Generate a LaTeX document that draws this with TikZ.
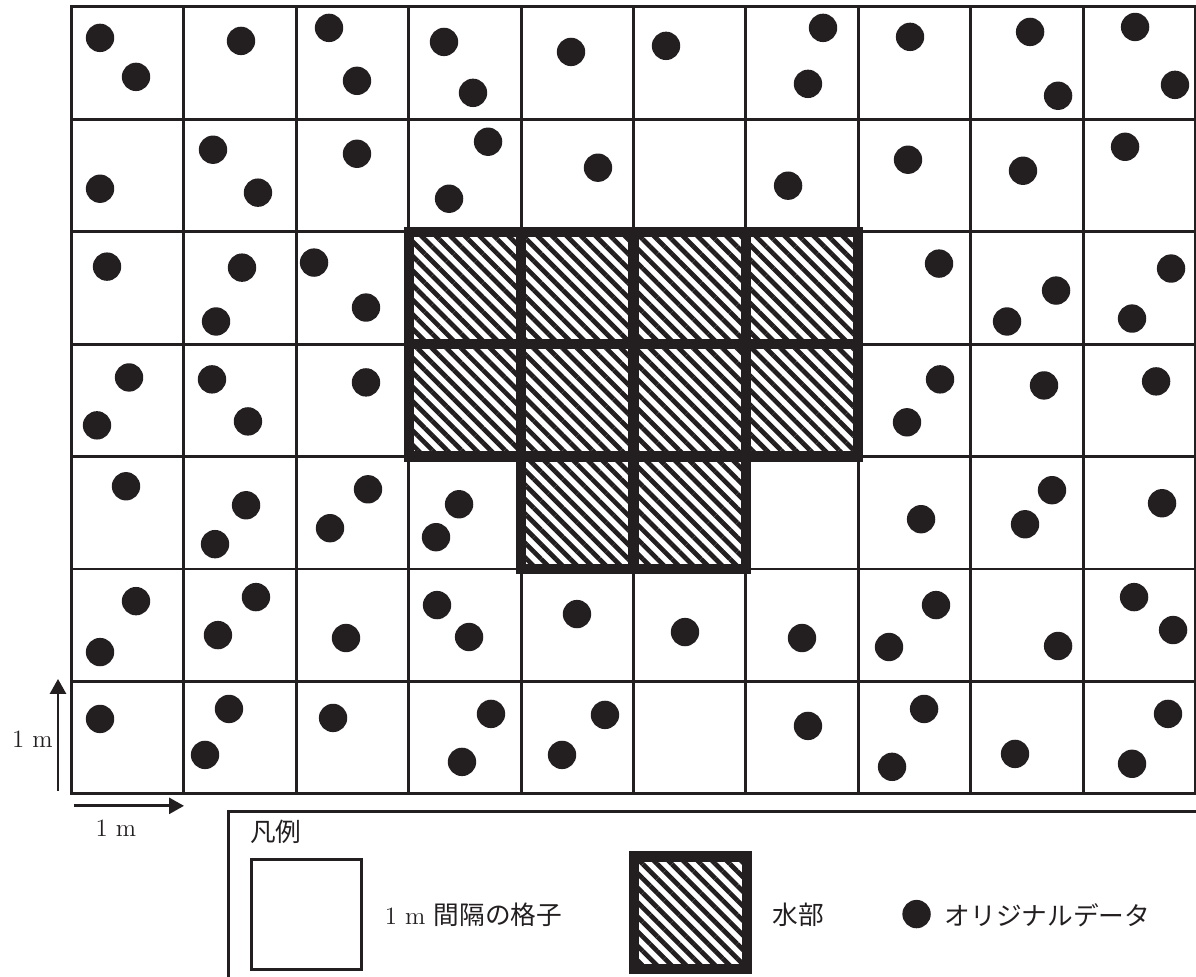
\documentclass[tikz,border=0pt]{standalone}
\usepackage{fontspec}
\newfontfamily\jpfont{Noto Sans CJK JP}
\usetikzlibrary{arrows.meta, patterns.meta}
\definecolor{ink}{HTML}{231F20}

\begin{document}
\begin{tikzpicture}[
    x=2cm, y=2cm,
    gridline/.style={draw=ink, line width=1.5pt},
    water/.style={draw=ink, line width=5.2pt,
        pattern={Lines[angle=-45, distance=5.2pt, line width=2.4pt]}, pattern color=ink},
    datadot/.style={circle, fill=ink, inner sep=0pt, minimum size=0.505cm},
    txt/.style={inner sep=0pt, text=ink, font=\fontsize{12.6}{15}\selectfont},
    jptxt/.style={inner sep=0pt, text=ink, font=\fontsize{13}{16}\selectfont\jpfont},
    scalearrow/.style={draw=ink, line width=1.4pt, -{Triangle[length=7.5pt, width=8pt]}}
]
\useasboundingbox (-0.636,-1.626) rectangle (10.004,7.062);

% 1 m grid
\draw[gridline, step=2cm] (0,0) grid (10,7);
\draw[gridline] (0,0) rectangle (10,7);

% water cells
\foreach \a/\b in {3/4, 4/4, 5/4, 6/4, 3/3, 4/3, 5/3, 6/3, 4/2, 5/2}
  \draw[water] (\a,\b) rectangle ++(1,1);

% original data
\foreach \x/\y [count=\n] in {
  0.254/6.725, 0.574/6.378, 1.508/6.698, 2.291/6.814, 2.540/6.343,
  3.314/6.689, 3.572/6.236, 4.444/6.600, 5.289/6.654, 6.686/6.814,
  6.552/6.316, 7.460/6.734, 8.528/6.778, 8.777/6.210, 9.462/6.822,
  9.817/6.307,
  0.254/5.383, 1.259/5.730, 1.659/5.348, 2.540/5.694, 3.706/5.801,
  3.359/5.294, 4.684/5.570, 6.375/5.410, 7.442/5.641, 8.465/5.543,
  9.373/5.756,
  0.316/4.690, 1.517/4.681, 1.286/4.202, 2.158/4.726, 2.620/4.326,
  7.718/4.717, 8.759/4.477, 8.323/4.202, 9.782/4.673, 9.435/4.228,
  0.512/3.704, 0.227/3.278, 1.250/3.687, 1.570/3.313, 2.620/3.660,
  7.727/3.687, 7.433/3.305, 8.652/3.633, 9.649/3.669,
  0.485/2.736, 1.553/2.567, 1.277/2.221, 2.638/2.709, 2.300/2.363,
  3.448/2.576, 3.243/2.283, 7.558/2.443, 8.723/2.701, 8.483/2.398,
  9.702/2.585,
  0.574/1.714, 0.254/1.261, 1.641/1.750, 1.303/1.412, 2.442/1.386,
  3.252/1.679, 3.537/1.395, 4.497/1.599, 5.458/1.439, 6.499/1.386,
  7.691/1.679, 7.273/1.306, 8.777/1.315, 9.453/1.750, 9.800/1.457,
  0.254/0.666, 1.401/0.755, 1.188/0.346, 2.327/0.675, 3.732/0.711,
  3.474/0.284, 4.746/0.702, 4.364/0.346, 6.552/0.604, 7.585/0.755,
  7.300/0.240, 8.394/0.355, 9.755/0.711, 9.435/0.267}
  \node[datadot] (d\n) at (\x,\y) {};

% scale
\coordinate (vs) at (-0.120,0.027);
\coordinate (ve) at (-0.120,1.022);
\coordinate (hs) at (0.022,-0.107);
\coordinate (he) at (1.001,-0.107);
\draw[scalearrow] (vs) -- (ve);
\draw[scalearrow] (hs) -- (he);
\node[txt] (vlen) at (-0.347,0.489) {1 m};
\node[txt] (hlen) at (0.396,-0.302) {1 m};

% legend
\draw[gridline] (1.401,-2) |- (10.5,-0.155);
\node[jptxt] (legendtitle) at (1.819,-0.338) {凡例};
\node[gridline, minimum size=1.958cm, inner sep=0pt] (gridkey) at (2.090,-1.070) {};
\node[txt, anchor=west] (gridtxt) at (2.785,-1.080) {1 m {\jpfont\fontsize{13}{16}\selectfont 間隔の格子}};
\node[water, minimum size=2cm, inner sep=0pt] (waterkey) at (5.507,-1.057) {};
\node[jptxt, anchor=west] (watertxt) at (6.235,-1.080) {水部};
\node[datadot] (dotkey) at (7.518,-1.070) {};
\node[jptxt, anchor=west] (dottxt) at (7.765,-1.080) {オリジナルデータ};
\end{tikzpicture}
\end{document}
